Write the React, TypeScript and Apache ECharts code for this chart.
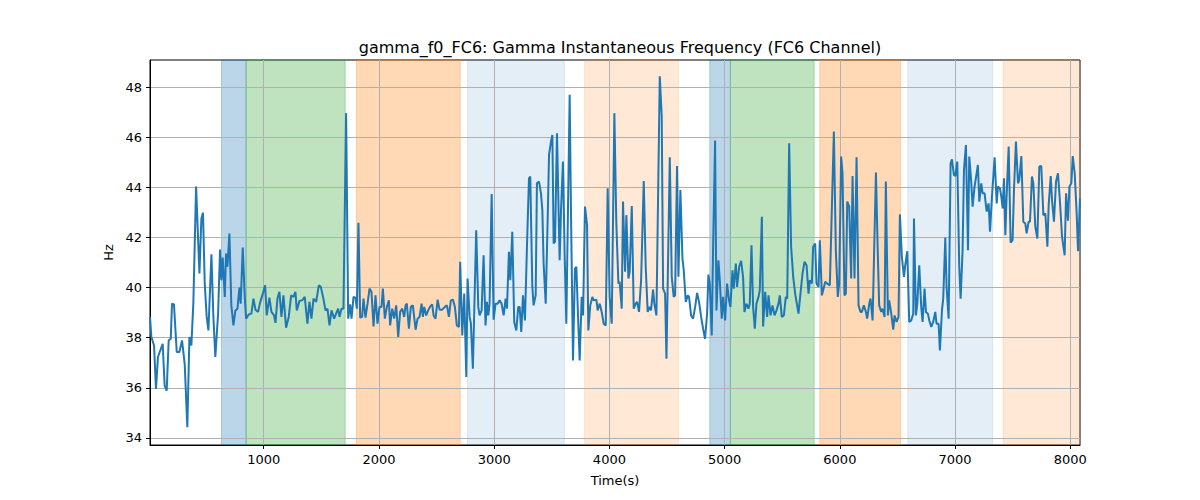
import React, { useEffect, useRef } from "react";
import * as echarts from "echarts";

const TITLE = "gamma_f0_FC6: Gamma Instantaneous Frequency (FC6 Channel)";
const X_NAME = "Time(s)";
const Y_NAME = "Hz";
const X_MIN = 13;
const X_MAX = 8084;
const Y_MIN = 33.72;
const Y_MAX = 49.08;
const X_TICKS = [1000, 2000, 3000, 4000, 5000, 6000, 7000, 8000];
const Y_TICKS = [34, 36, 38, 40, 42, 44, 46, 48];

const TIME = [
  13, 25, 48, 65, 82, 123, 140, 158, 175, 193, 204, 221, 245, 268, 291, 314, 337, 355, 372, 389, 413, 442, 459, 473, 488, 505, 520, 546, 563, 580, 604, 621, 633, 644, 662, 673, 685, 702, 719, 737, 754, 772, 789, 800, 818, 835, 847, 870, 893, 911, 928, 951, 968, 992, 1012, 1026, 1049, 1067, 1090, 1102, 1119, 1136, 1154, 1171, 1194, 1217, 1238, 1258, 1275, 1287, 1310, 1333, 1356, 1379, 1397, 1414, 1432, 1455, 1478, 1495, 1518, 1536, 1553, 1571, 1588, 1611, 1628, 1646, 1657, 1675, 1692, 1715, 1733, 1750, 1762, 1779, 1796, 1808, 1822, 1837, 1854, 1866, 1883, 1901,
  1918, 1935, 1953, 1970, 1987, 2005, 2022, 2034, 2051, 2069, 2086, 2097, 2115, 2132, 2150, 2167, 2184, 2202, 2219, 2231, 2242, 2260, 2277, 2294, 2318, 2335, 2352, 2370, 2381, 2393, 2410, 2427, 2445, 2462, 2474, 2491, 2509, 2526, 2549, 2572, 2590, 2607, 2624, 2642, 2659, 2676, 2694, 2705, 2723, 2740, 2758, 2769, 2787, 2798, 2815, 2844, 2862, 2873, 2891, 2908, 2925, 2937, 2949, 2960, 2978, 2995, 3012, 3030, 3047, 3064, 3082, 3099, 3111, 3128, 3140, 3157, 3174, 3192, 3209, 3221, 3235, 3250, 3267, 3284, 3302, 3313, 3331, 3342, 3360, 3371, 3389, 3406, 3418, 3429, 3447, 3464, 3476, 3493, 3505, 3516, 3528, 3545, 3568, 3580, 3597, 3612, 3626, 3655, 3667, 3684, 3701, 3713, 3730, 3742, 3759, 3771, 3788, 3806, 3817, 3834, 3852, 3863, 3887, 3898,
  3916, 3933, 3950, 3968, 3985, 4002, 4020, 4043, 4060, 4078, 4089, 4107, 4118, 4136, 4147, 4165, 4176, 4194, 4211, 4228, 4240, 4257, 4275, 4298, 4315, 4332, 4350, 4361, 4379, 4390, 4408, 4437, 4454, 4466, 4483, 4495, 4524, 4541, 4558, 4570, 4587, 4599, 4616, 4634, 4645, 4663, 4680, 4691, 4709, 4726, 4744, 4761, 4778, 4796, 4813, 4830, 4848, 4859, 4871, 4888, 4900, 4917, 4929, 4946, 4958, 4975, 4987, 5004, 5021, 5039, 5050, 5068, 5079, 5097, 5108, 5126, 5143, 5160, 5172, 5189, 5207, 5218, 5233, 5247, 5262, 5276, 5294, 5305, 5323, 5334, 5352, 5369, 5381, 5398, 5415, 5433, 5450, 5467, 5479, 5496, 5514, 5531, 5543, 5560, 5577, 5595, 5612, 5641, 5658, 5676, 5693, 5711, 5728, 5739, 5757, 5768, 5786, 5797, 5815, 5826, 5844, 5855, 5873, 5890,
  5913, 5948, 5965, 5982, 5994, 6011, 6023, 6040, 6052, 6064, 6081, 6098, 6110, 6127, 6145, 6162, 6179, 6191, 6208, 6226, 6237, 6255, 6266, 6284, 6313, 6330, 6341, 6359, 6370, 6388, 6399, 6417, 6428, 6446, 6463, 6475, 6492, 6509, 6521, 6538, 6556, 6567, 6585, 6602, 6619, 6637, 6643, 6660, 6672, 6689, 6706, 6718, 6735, 6747, 6764, 6776, 6793, 6810, 6828, 6839, 6857, 6868, 6886, 6897, 6915, 6926, 6944, 6961, 6973, 6990, 7002, 7019, 7036, 7048, 7065, 7077, 7094, 7112, 7123, 7140, 7152, 7169, 7198, 7210, 7227, 7239, 7256, 7274, 7291, 7303, 7320, 7343, 7361, 7372, 7389, 7401, 7413, 7424, 7436, 7447, 7465, 7482, 7499, 7511, 7528, 7546, 7557, 7575, 7592, 7609, 7621, 7638, 7650, 7667, 7679, 7696, 7714, 7731, 7748, 7766, 7783, 7801, 7812, 7830, 7841, 7858, 7876, 7893, 7911, 7928, 7940, 7951, 7963, 7980, 7992, 8009, 8021, 8038, 8055, 8067, 8084,
];

const HZ = [
  38.83, 38.03, 37.69, 35.96, 37.23, 37.76, 36.09, 35.89, 37.89, 37.96, 39.36, 39.33, 37.43, 37.43, 37.89, 36.96, 34.43, 38.03, 37.69, 39.36, 44.03, 40.56, 42.76, 42.99, 40.16, 38.83, 38.29, 41.33, 38.83, 37.23, 38.96, 41.52, 40.29, 41.2, 39.63, 41.36, 40.83, 42.16, 39.29, 38.49, 39.09, 39.16, 40.0, 39.36, 41.6, 39.63, 38.76, 38.93, 38.96, 39.56, 39.12, 39.03, 39.39, 39.76, 40.09, 38.89, 39.6, 39.03, 38.89, 38.59, 39.56, 39.83, 38.83, 39.69, 38.4, 38.83, 39.69, 39.63, 39.83, 39.09, 39.47, 39.49, 39.63, 38.56, 39.43, 38.76, 39.56, 39.43, 40.09, 40.03, 39.56, 39.09, 39.16, 38.49, 39.09, 38.76, 38.96, 39.16, 38.83, 39.16, 39.16, 46.96, 38.76, 39.33, 38.76, 39.63, 39.6, 39.16, 42.59, 38.8, 38.83, 39.56, 38.8, 39.36,
  39.96, 39.83, 38.45, 39.69, 38.56, 39.23, 39.23, 39.96, 38.76, 39.23, 39.49, 38.49, 39.16, 38.76, 39.29, 38.03, 39.03, 39.16, 38.83, 39.29, 39.36, 38.36, 39.23, 39.29, 38.32, 38.76, 38.83, 39.36, 38.83, 39.23, 38.89, 39.09, 39.25, 39.33, 38.89, 38.76, 39.52, 39.12, 39.12, 39.23, 39.29, 38.83, 39.49, 39.52, 39.23, 38.49, 38.43, 41.03, 38.09, 39.76, 36.43, 40.36, 38.83, 38.56, 36.76, 42.29, 39.23, 38.89, 39.09, 41.29, 38.49, 39.43, 38.89, 39.36, 43.73, 38.72, 39.36, 39.36, 39.49, 39.36, 38.89, 39.56, 39.16, 41.43, 40.29, 42.23, 38.63, 38.29, 39.23, 39.23, 38.23, 39.69, 38.69, 41.56, 44.36, 44.43, 40.03, 39.29, 39.69, 44.16, 44.23, 43.76, 43.09, 40.96, 39.36, 42.69, 45.29, 45.83, 46.09, 41.76, 41.83, 46.16, 41.09, 43.09, 45.03, 41.23, 38.56, 47.69, 42.83, 37.09, 40.76, 40.83, 38.56, 37.09, 39.63, 38.89, 43.23, 42.49, 38.29, 39.29, 39.63, 39.49, 39.52, 39.09,
  39.36, 39.03, 38.56, 38.49, 43.96, 39.63, 38.56, 46.96, 42.56, 40.16, 40.23, 39.16, 43.43, 40.63, 42.89, 40.36, 40.63, 43.25, 39.16, 39.36, 39.43, 39.03, 40.29, 44.25, 40.83, 39.03, 39.23, 39.09, 39.92, 39.36, 38.89, 48.43, 46.83, 39.96, 39.76, 37.16, 45.2, 40.43, 39.63, 39.69, 44.85, 40.43, 43.89, 41.16, 40.69, 39.43, 39.69, 39.63, 38.89, 38.76, 39.23, 39.79, 39.43, 38.83, 38.36, 37.96, 38.96, 40.52, 40.16, 38.09, 41.63, 45.87, 39.09, 41.09, 40.29, 38.76, 39.63, 38.69, 40.16, 39.47, 39.23, 40.69, 39.96, 40.96, 40.03, 40.83, 41.07, 40.43, 39.03, 39.36, 39.16, 39.36, 41.69, 39.23, 38.36, 39.36, 39.63, 39.89, 42.83, 38.45, 39.83, 38.83, 39.69, 38.89, 39.29, 38.89, 39.09, 39.36, 39.69, 38.83, 38.89, 39.63, 39.56, 45.76, 41.63, 40.43, 39.76, 38.96, 39.76, 40.56, 41.03, 40.89, 39.76, 40.29, 40.16, 41.63, 41.76, 40.16, 40.03, 41.89, 39.69, 39.89, 40.23, 40.16,
  40.09, 46.23, 41.49, 39.63, 40.16, 45.23, 44.56, 39.69, 39.76, 43.43, 43.23, 40.36, 44.45, 40.36, 45.2, 39.29, 39.03, 39.03, 39.29, 39.03, 38.76, 39.36, 39.56, 38.69, 44.59, 41.23, 39.29, 39.03, 39.16, 38.83, 44.23, 38.89, 39.49, 38.96, 38.32, 38.89, 38.63, 38.83, 42.92, 41.23, 40.43, 40.89, 41.45, 38.63, 38.69, 38.96, 42.76, 38.89, 39.36, 40.89, 39.23, 38.63, 39.96, 39.03, 38.96, 38.69, 38.43, 38.63, 39.03, 38.56, 38.56, 37.49, 39.09, 39.56, 42.0, 40.03, 38.76, 44.96, 45.12, 44.49, 44.45, 45.03, 40.83, 39.56, 41.49, 44.69, 45.69, 41.49, 45.23, 44.23, 43.23, 44.03, 44.89, 43.43, 44.16, 43.76, 43.76, 43.03, 43.36, 42.23, 43.63, 45.2, 43.36, 44.03, 43.96, 43.63, 43.16, 44.36, 42.09, 43.63, 45.63, 41.79, 41.89, 43.89, 45.83, 44.16, 44.29, 45.25, 42.63, 42.56, 42.16, 42.63, 42.63, 44.43, 44.16, 42.43, 41.96, 44.83, 44.85, 42.89, 42.96, 41.63, 43.29, 44.45, 43.49, 42.63, 44.23, 44.56, 43.36, 42.03, 41.63, 41.29, 43.76, 42.67, 44.03, 44.16, 45.25, 44.56, 42.96, 41.45, 43.56,
];

const SPAN_START = [633, 847, 1805, 2769, 3785, 4871, 5050, 5826, 6590, 7416];
const SPAN_END = [847, 1707, 2705, 3609, 4599, 5050, 5777, 6527, 7326, 8084];
const SPAN_KIND = [0, 1, 2, 3, 4, 0, 1, 2, 3, 4];

const KIND_FILL = [
  "rgba(31,119,180,0.3)",
  "rgba(44,160,44,0.3)",
  "rgba(255,127,14,0.3)",
  "rgba(31,119,180,0.12)",
  "rgba(255,127,14,0.17)",
];

const FONT = "DejaVu Sans";

export default function App() {
  const ref = useRef<HTMLDivElement>(null);
  useEffect(() => {
    document.body.style.margin = "0";
    const chart = echarts.init(ref.current!, null, { renderer: "svg" });
    const n = Math.min(TIME.length, HZ.length);
    const lineData: number[][] = [];
    for (let i = 0; i < n; i++) lineData.push([TIME[i], HZ[i]]);
    const spanData = SPAN_START.map((s, i) => [s, SPAN_END[i], SPAN_KIND[i]]);

    chart.setOption({
      animation: false,
      title: {
        text: TITLE,
        left: 615,
        top: 34,
        textAlign: "center",
        textStyle: { fontFamily: FONT, fontSize: 16, fontWeight: "normal", color: "#000" },
      },
      grid: {
        left: 150,
        right: 120,
        top: 60,
        bottom: 55,
        show: true,
        borderColor: "#000",
        borderWidth: 1,
        backgroundColor: "transparent",
      },
      xAxis: {
        type: "value",
        min: X_MIN,
        max: X_MAX,
        z: 1,
        name: X_NAME,
        nameLocation: "middle",
        nameGap: 29,
        nameTextStyle: { fontFamily: FONT, fontSize: 13, color: "#000" },
        axisLine: { show: true, lineStyle: { color: "#000", width: 1 } },
        axisTick: { show: true, length: 4, lineStyle: { color: "#000" }, customValues: X_TICKS },
        axisLabel: {
          fontFamily: FONT,
          fontSize: 13,
          color: "#000",
          margin: 8,
          customValues: X_TICKS,
          formatter: (v: number) => String(v),
        },
        splitLine: { show: true, lineStyle: { color: "#b0b0b0", width: 1 } },
      },
      yAxis: {
        type: "value",
        min: Y_MIN,
        max: Y_MAX,
        z: 1,
        name: Y_NAME,
        nameLocation: "middle",
        nameGap: 33,
        nameRotate: 90,
        nameTextStyle: { fontFamily: FONT, fontSize: 13, color: "#000" },
        axisLine: { show: true, lineStyle: { color: "#000", width: 1 } },
        axisTick: { show: true, length: 4, lineStyle: { color: "#000" }, customValues: Y_TICKS },
        axisLabel: {
          fontFamily: FONT,
          fontSize: 13,
          color: "#000",
          margin: 8,
          customValues: Y_TICKS,
          formatter: (v: number) => String(v),
        },
        splitLine: { show: true, lineStyle: { color: "#b0b0b0", width: 1 } },
      },
      series: [
        {
          type: "custom",
          z: 0,
          silent: true,
          clip: true,
          encode: { x: [0, 1] },
          data: spanData,
          renderItem: (params: any, api: any) => {
            const a = api.coord([api.value(0), Y_MAX]);
            const b = api.coord([api.value(1), Y_MIN]);
            const fill = KIND_FILL[api.value(2)];
            return {
              type: "rect",
              shape: { x: a[0], y: a[1], width: b[0] - a[0], height: b[1] - a[1] },
              style: { fill, stroke: fill, lineWidth: 1 },
            };
          },
        },
        {
          type: "line",
          z: 2,
          data: lineData,
          showSymbol: false,
          symbol: "none",
          clip: true,
          lineStyle: { color: "#1f77b4", width: 2 },
        },
      ],
    });
    return () => chart.dispose();
  }, []);
  return <div ref={ref} style={{ width: 1200, height: 500 }} />;
}
